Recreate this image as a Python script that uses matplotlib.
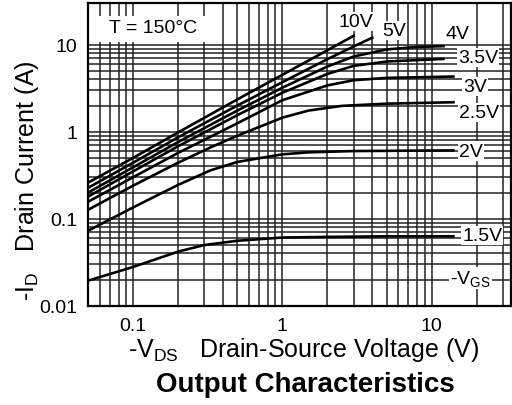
import numpy as np
import matplotlib.pyplot as plt
from matplotlib.patches import Rectangle

plt.rcParams['font.family'] = ['Liberation Sans', 'DejaVu Sans']
plt.rcParams['mathtext.fontset'] = 'custom'
plt.rcParams['mathtext.rm'] = 'Liberation Sans'
plt.rcParams['mathtext.it'] = 'Liberation Sans'

# -VDS (V) / -ID (A), one pair per gate voltage
vds_15 = [0.05, 0.1, 0.2, 0.3, 0.5, 1.0, 2.0, 5.0, 14.0]
id_15 = [0.0195, 0.028, 0.042, 0.050, 0.056, 0.061, 0.062, 0.063, 0.063]

vds_20 = [0.05, 0.1, 0.2, 0.33, 0.5, 1.0, 1.5, 3.0, 14.0]
id_20 = [0.073, 0.135, 0.245, 0.36, 0.45, 0.55, 0.58, 0.60, 0.61]

vds_25 = [0.05, 0.1, 0.2, 0.33, 0.5, 1.0, 1.5, 2.5, 5.0, 14.0]
id_25 = [0.127, 0.24, 0.44, 0.66, 0.9, 1.45, 1.75, 1.98, 2.1, 2.18]

vds_30 = [0.05, 0.1, 0.2, 0.5, 1.0, 2.0, 3.0, 5.0, 14.0]
id_30 = [0.157, 0.30, 0.57, 1.25, 2.3, 3.4, 3.9, 4.15, 4.3]

vds_35 = [0.05, 0.1, 0.2, 0.5, 1.0, 2.0, 3.0, 5.0, 12.0]
id_35 = [0.18, 0.35, 0.68, 1.55, 2.8, 4.6, 5.7, 6.4, 6.85]

vds_40 = [0.05, 0.1, 0.2, 0.5, 1.0, 2.0, 3.0, 5.0, 8.0, 12.0]
id_40 = [0.20, 0.39, 0.76, 1.75, 3.2, 5.6, 7.3, 8.8, 9.4, 9.6]

vds_50 = [0.05, 0.1, 0.2, 0.5, 1.0, 2.0, 3.0, 4.0]
id_50 = [0.227, 0.44, 0.86, 2.0, 3.7, 6.8, 9.5, 12.0]

vds_100 = [0.05, 0.1, 0.2, 0.5, 1.0, 2.0, 3.0]
id_100 = [0.26, 0.50, 0.98, 2.35, 4.5, 8.6, 12.6]

curves = [(vds_15, id_15), (vds_20, id_20), (vds_25, id_25), (vds_30, id_30),
          (vds_35, id_35), (vds_40, id_40), (vds_50, id_50), (vds_100, id_100)]

vgs_labels = ["1.5V", "2V", "2.5V", "3V", "3.5V", "4V", "5V", "10V"]
label_pos = [(21.8, 0.064), (18.4, 0.60), (20.8, 1.65), (19.5, 3.3),
             (20.5, 7.1), (15.0, 13.4), (5.6, 14.5), (3.1, 18.4)]

x_ticks = [0.1, 1, 10]
x_ticklabels = ["0.1", "1", "10"]
y_ticks = [0.01, 0.1, 1, 10]
y_ticklabels = ["0.01", "0.1", "1", "10"]

fig = plt.figure(figsize=(5.12, 4.06), dpi=100)
ax = fig.add_axes([0.172, 0.244, 0.826, 0.746])
ax.set_xscale('log')
ax.set_yscale('log')
ax.set_xlim(0.05, 34)
ax.set_ylim(0.01, 30)

gc = '#222222'
# vertical grid across whole range, horizontal grid only up to 10
for dec in [0.01, 0.1, 1, 10]:
    for m in range(1, 10):
        v = dec * m
        if 0.05 <= v <= 30:
            ax.axvline(v, color=gc, lw=1.1, zorder=1)
for dec in [0.01, 0.1, 1]:
    for m in range(1, 10):
        ax.axhline(dec * m, color=gc, lw=1.1, zorder=1)
ax.axhline(10, color=gc, lw=1.1, zorder=1)

for vx, iy in curves:
    ax.plot(vx, iy, color='black', lw=1.9, zorder=3)

box = dict(facecolor='white', edgecolor='none', pad=0.8)
for lab, (lx, ly) in zip(vgs_labels, label_pos):
    ax.text(lx, ly, lab, fontsize=14, ha='center', va='center', bbox=box, zorder=4)
ax.text(18.1, 0.021, r"-V$_{\mathrm{GS}}$", fontsize=14, ha='center', va='center',
        bbox=box, zorder=4)

ax.add_patch(Rectangle((0.05, 10.8), 0.305 - 0.05, 21.5 - 10.8, facecolor='white',
                       edgecolor='none', zorder=2))
ax.text(0.136, 15.7, "T = 150°C", fontsize=14, ha='center', va='center', zorder=4)

ax.set_xticks(x_ticks)
ax.set_xticklabels(x_ticklabels)
ax.set_yticks(y_ticks)
ax.set_yticklabels(y_ticklabels)
ax.minorticks_off()
ax.tick_params(length=0, labelsize=14, pad=8)
for sp in ax.spines.values():
    sp.set_linewidth(1.6)
    sp.set_zorder(5)

fig.text(0.592, 0.138, r"-V$_{\mathrm{DS}}$   Drain-Source Voltage (V)", fontsize=18,
         ha='center', va='center')
fig.text(0.052, 0.554, r"-I$_{\mathrm{D}}$   Drain Current (A)", fontsize=18,
         ha='center', va='center', rotation=90)
fig.text(0.596, 0.052, "Output Characteristics", fontsize=20, fontweight='bold',
         ha='center', va='center')

fig.savefig('out.png', dpi=100)
